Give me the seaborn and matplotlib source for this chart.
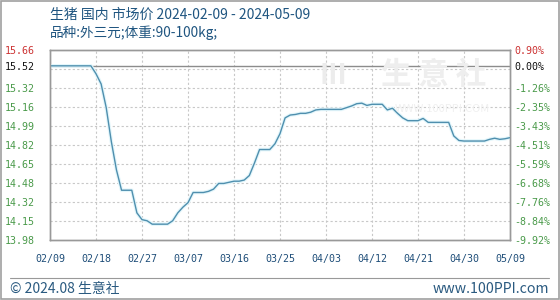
import numpy as np
import pandas as pd
import matplotlib
matplotlib.use("Agg")
import matplotlib.pyplot as plt
import seaborn as sns

# ---------------- data ----------------
start_date = "2024-02-09"
prices = [
    15.52, 15.52, 15.52, 15.52, 15.52, 15.52, 15.52, 15.52, 15.52, 15.45,
    15.36, 15.15, 14.85, 14.60, 14.42, 14.42, 14.42, 14.22, 14.16, 14.15,
    14.12, 14.12, 14.12, 14.12, 14.15, 14.22, 14.27, 14.31, 14.40, 14.40,
    14.40, 14.41, 14.43, 14.48, 14.48, 14.49, 14.50, 14.50, 14.51, 14.55,
    14.66, 14.78, 14.78, 14.78, 14.83, 14.92, 15.06, 15.085, 15.09, 15.10,
    15.10, 15.11, 15.13, 15.135, 15.135, 15.135, 15.135, 15.135, 15.15, 15.165,
    15.185, 15.19, 15.17, 15.18, 15.18, 15.18, 15.13, 15.145, 15.10, 15.06,
    15.035, 15.035, 15.035, 15.055, 15.02, 15.02, 15.02, 15.02, 15.02, 14.90,
    14.86, 14.855, 14.855, 14.855, 14.855, 14.855, 14.87, 14.88, 14.87, 14.875,
    14.885,
]
base_price = 15.52
y_tick_values = [15.66, 15.52, 15.32, 15.16, 14.99, 14.82, 14.65, 14.48, 14.32, 14.15, 13.98]
y_tick_labels = ["15.66", "15.52", "15.32", "15.16", "14.99", "14.82", "14.65", "14.48", "14.32", "14.15", "13.98"]
pct_labels = ["0.90%", "0.00%", "-1.26%", "-2.35%", "-3.43%", "-4.51%", "-5.59%", "-6.68%", "-7.76%", "-8.84%", "-9.92%"]
x_tick_labels = ["02/09", "02/18", "02/27", "03/07", "03/16", "03/25", "04/03", "04/12", "04/21", "04/30", "05/09"]
title_line1 = "生猪 国内 市场价 2024-02-09 - 2024-05-09"
title_line2 = "品种:外三元;体重:90-100kg;"
footer_left = "© 2024.08 生意社"
footer_right = "www.100PPI.com"

dates = pd.date_range(start_date, periods=len(prices), freq="D")
df = pd.DataFrame({"date": dates, "price": prices})

# ---------------- style ----------------
sns.set_theme(style="white")
plt.rcParams['font.family'] = ['Noto Sans CJK SC', 'DejaVu Sans']

fig = plt.figure(figsize=(5.6, 3.0), dpi=100)
fig.patch.set_facecolor("white")
ax = fig.add_axes([50/560, 1-240/300, 460/560, 190/300])
ax.set_facecolor("white")

# watermark
fig.text(0.595, 0.745, "III", color="#ececec", fontsize=20, ha="center", va="center", fontweight="bold")
fig.text(0.775, 0.75, "生 意 社", color="#eeeeee", fontsize=22, ha="center", va="center",
         fontweight="bold")
fig.text(0.79, 0.635, "WWW.100PPI.COM", color="#f0f0f0", fontsize=8, ha="center", va="center")

# glow + line
line_color = "#4f8fae"
sns.lineplot(data=df, x="date", y="price", ax=ax, color="#e3f6fb", linewidth=2.6, zorder=3)
sns.lineplot(data=df, x="date", y="price", ax=ax, color=line_color, linewidth=1.0, zorder=4)

ax.set_xlim(dates[0], dates[-1])
ax.set_ylim(13.98, 15.66)

# grid
step = (15.66 - 13.98) / 10
for k in range(1, 10):
    ax.axhline(15.66 - k * step, color="#c8c8c8", linestyle=(0, (2, 2)), linewidth=0.8, zorder=1)
tick_dates = [dates[0] + pd.Timedelta(days=9 * i) for i in range(len(x_tick_labels))]
for d in tick_dates[1:-1]:
    ax.axvline(d, color="#c8c8c8", linestyle=(0, (2, 2)), linewidth=0.8, zorder=1)
ax.axhline(base_price, color="#8c8c8c", linewidth=1.0, zorder=2)

for s in ax.spines.values():
    s.set_color("#999999")
    s.set_linewidth(1.0)

mono = "DejaVu Sans Mono"
ax.set_yticks(y_tick_values)
ax.set_yticklabels(y_tick_labels, fontfamily=mono, fontsize=7.2)
ax.tick_params(axis="y", length=0, pad=11)
lab_colors = ["#cc3333", "#111111"] + ["#4a9a4a"] * 9
for t, c in zip(ax.get_yticklabels(), lab_colors):
    t.set_color(c)

ax.set_xticks(tick_dates)
ax.set_xticklabels(x_tick_labels, fontfamily=mono, fontsize=7.2, color="#1f4e79")
ax.tick_params(axis="x", length=0, pad=10)
ax.set_xlabel("")
ax.set_ylabel("")

ax2 = ax.twinx()
ax2.set_ylim(13.98, 15.66)
ax2.set_yticks(y_tick_values)
ax2.set_yticklabels(pct_labels, fontfamily=mono, fontsize=7.2)
ax2.tick_params(axis="y", length=0, pad=3)
for t, c in zip(ax2.get_yticklabels(), lab_colors):
    t.set_color(c)
for s in ax2.spines.values():
    s.set_color("#999999")
    s.set_linewidth(1.0)
ax2.grid(False)

# titles
title_color = "#1f5580"
fig.text(50/560, 1-15/300, title_line1, color=title_color, fontsize=10, ha="left", va="center")
fig.text(50/560, 1-33/300, title_line2, color=title_color, fontsize=9.8, ha="left", va="center")

# footer
fig.add_artist(plt.Line2D([10/560, 549/560], [1-278/300, 1-278/300], color="#999999", linewidth=0.8))
fig.text(10/560, 1-289/300, footer_left, color="#2a5a80", fontsize=10, ha="left", va="center")
fig.text(549/560, 1-289/300, footer_right, color="#2a5a80", fontsize=10.2, ha="right", va="center")

# outer frame
fig.add_artist(plt.Rectangle((0.001, 0.002), 0.997, 0.995, fill=False, edgecolor="#a0a0a0",
                             linewidth=1.2, transform=fig.transFigure))

fig.savefig("out.png", dpi=100, facecolor="white")
